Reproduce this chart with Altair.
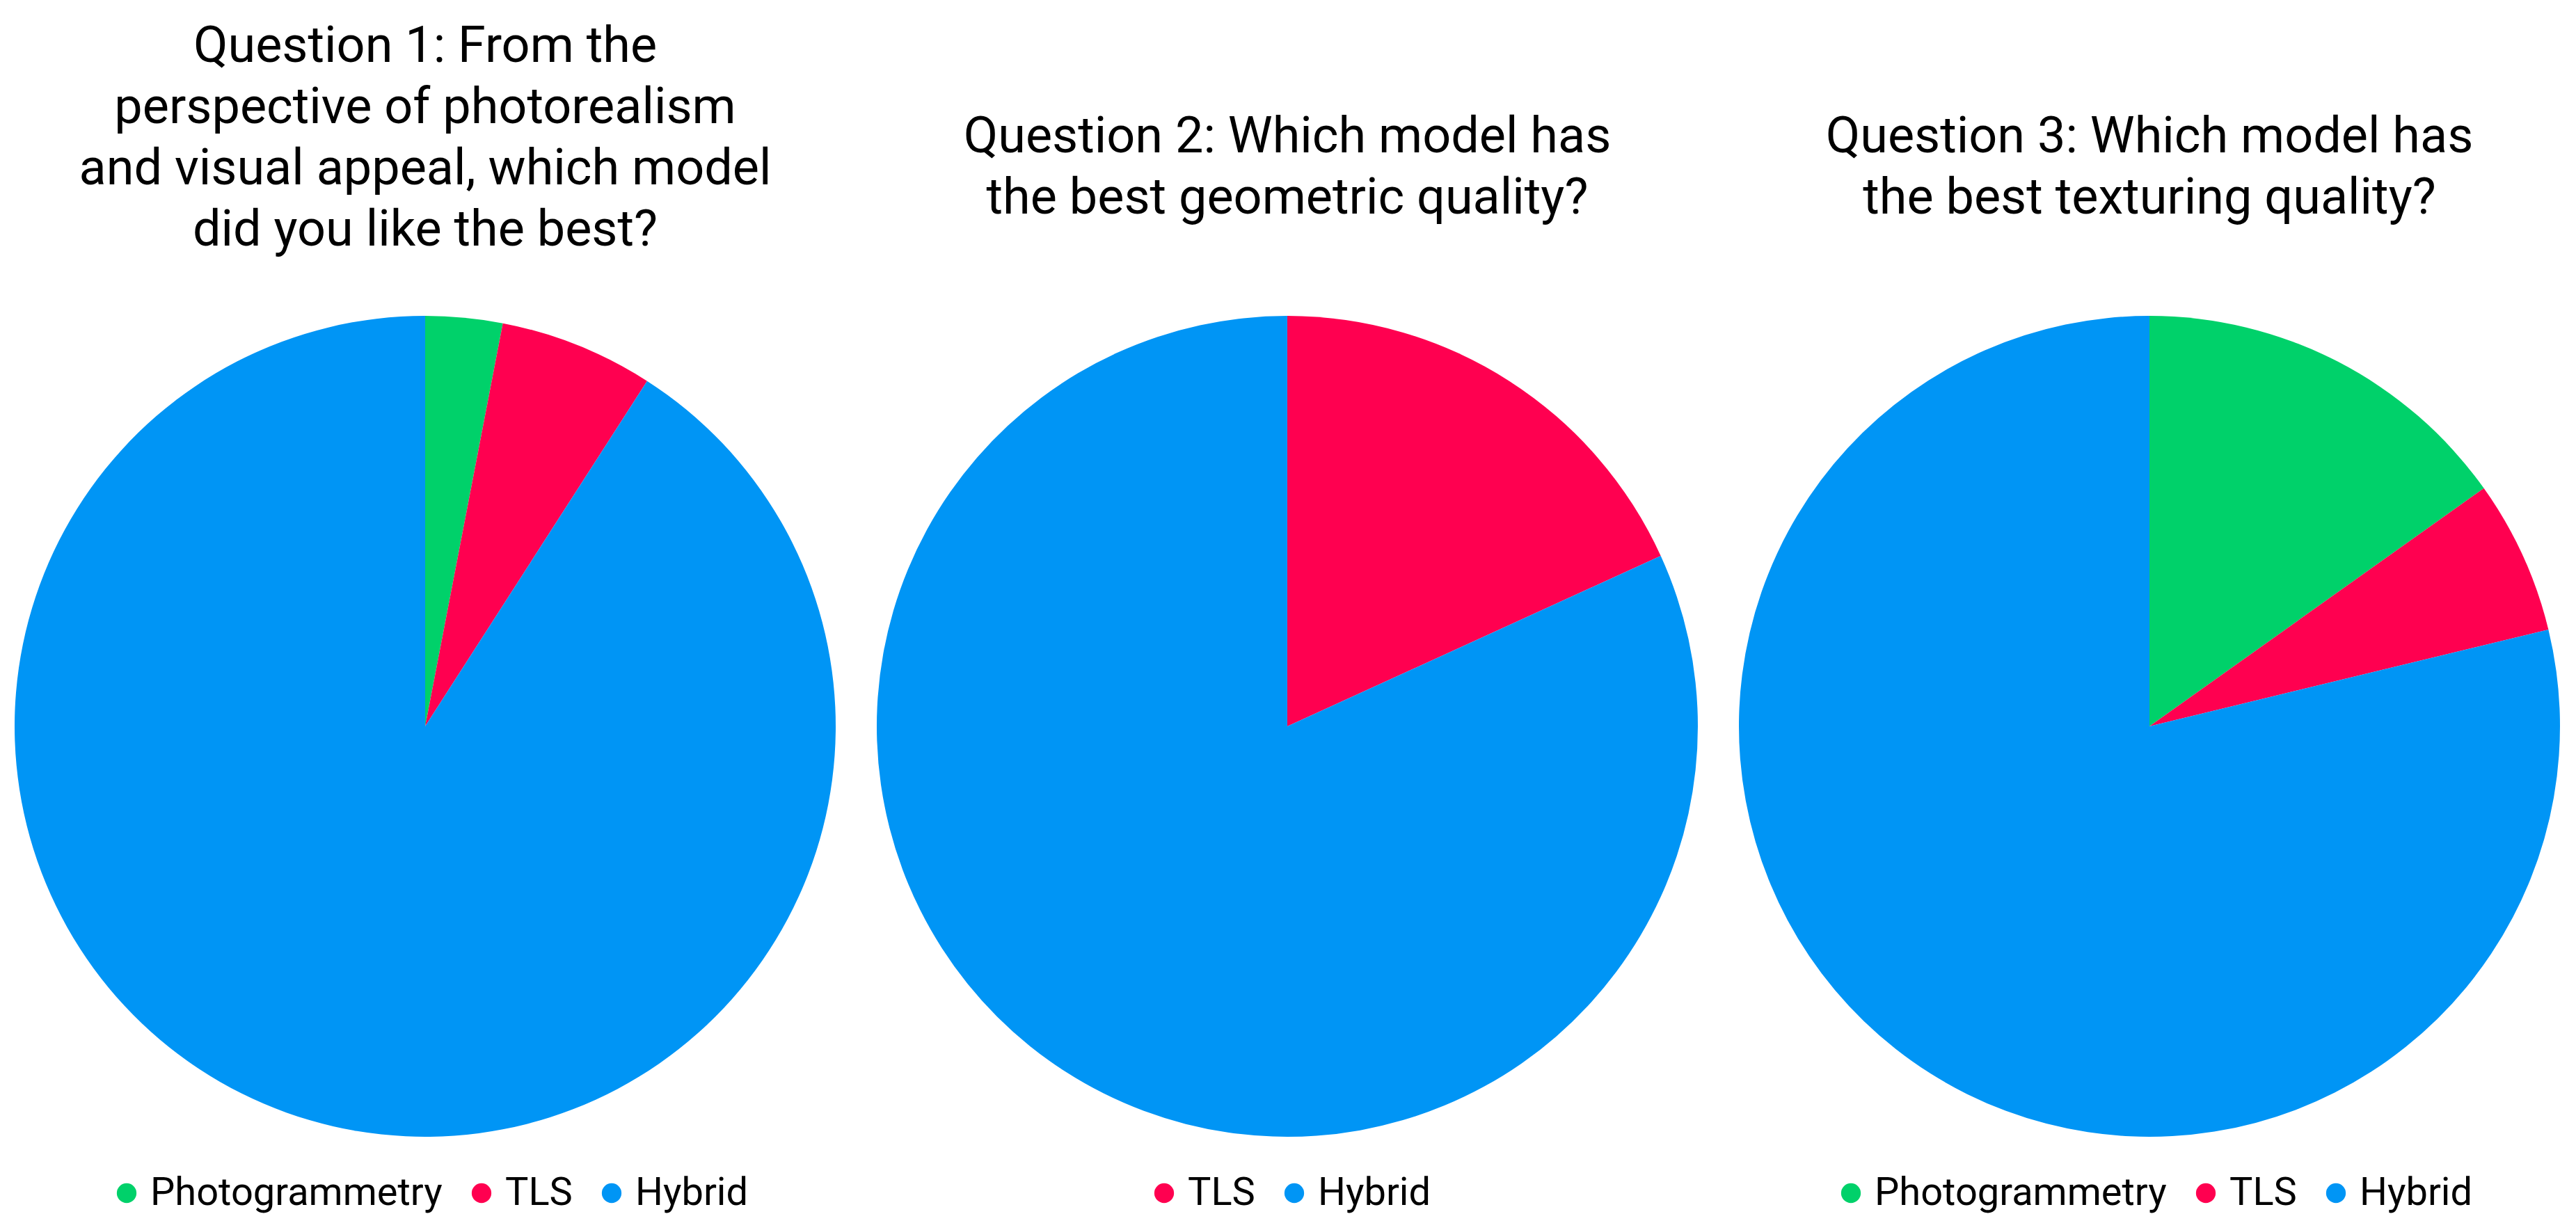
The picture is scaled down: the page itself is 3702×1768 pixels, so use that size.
import altair as alt
import pandas as pd

categories = ["Photogrammetry", "TLS", "Hybrid"]
colors = ["#00D16A", "#FF0050", "#0095F5"]
q1_counts = [1, 2, 30]
q2_counts = [0, 6, 27]
q3_counts = [5, 2, 26]
titles = [
    ["Question 1: From the", "perspective of photorealism",
     "and visual appeal, which model", "did you like the best?"],
    ["Question 2: Which model has", "the best geometric quality?"],
    ["Question 3: Which model has", "the best texturing quality?"],
]
title_offsets = [86, 132, 132]
legend_x = [146, 398, 146]


def panel(counts, title, offset, lx):
    rows = [
        {"model": c, "count": n, "ord": i}
        for i, (c, n) in enumerate(zip(categories, counts))
        if n > 0
    ]
    dom = [r["model"] for r in rows]
    rng = [colors[categories.index(m)] for m in dom]
    df = pd.DataFrame(rows)
    return (
        alt.Chart(df, title=alt.Title(title, offset=offset))
        .mark_arc(outerRadius=590)
        .encode(
            theta=alt.Theta("count:Q", stack=True),
            color=alt.Color(
                "model:N",
                sort=dom,
                scale=alt.Scale(domain=dom, range=rng),
                legend=alt.Legend(
                    orient="none",
                    legendX=lx,
                    legendY=1233,
                    direction="horizontal",
                    title=None,
                    symbolType="circle",
                    symbolSize=800,
                    symbolStrokeWidth=0,
                    labelFont="Roboto",
                    labelFontSize=56,
                    labelColor="#000000",
                    labelLimit=2000,
                    labelOffset=6,
                    columnPadding=28,
                ),
            ),
            order=alt.Order("ord:Q"),
        )
        .properties(width=1206, height=1180)
    )


chart = (
    alt.hconcat(
        panel(q1_counts, titles[0], title_offsets[0], legend_x[0]),
        panel(q2_counts, titles[1], title_offsets[1], legend_x[1]),
        panel(q3_counts, titles[2], title_offsets[2], legend_x[2]),
        spacing=33,
    )
    .resolve_scale(color="independent")
    .properties(
        bounds="flush",
        padding={"top": 23, "left": 0, "right": 0, "bottom": 140},
        background="white",
    )
    .configure_view(stroke=None)
    .configure_title(
        font="Roboto",
        fontSize=72,
        lineHeight=88,
        color="#000000",
        fontWeight="normal",
        anchor="middle",
        baseline="bottom",
    )
)

chart.save("out.html", embed_options={"renderer": "svg", "actions": False})
